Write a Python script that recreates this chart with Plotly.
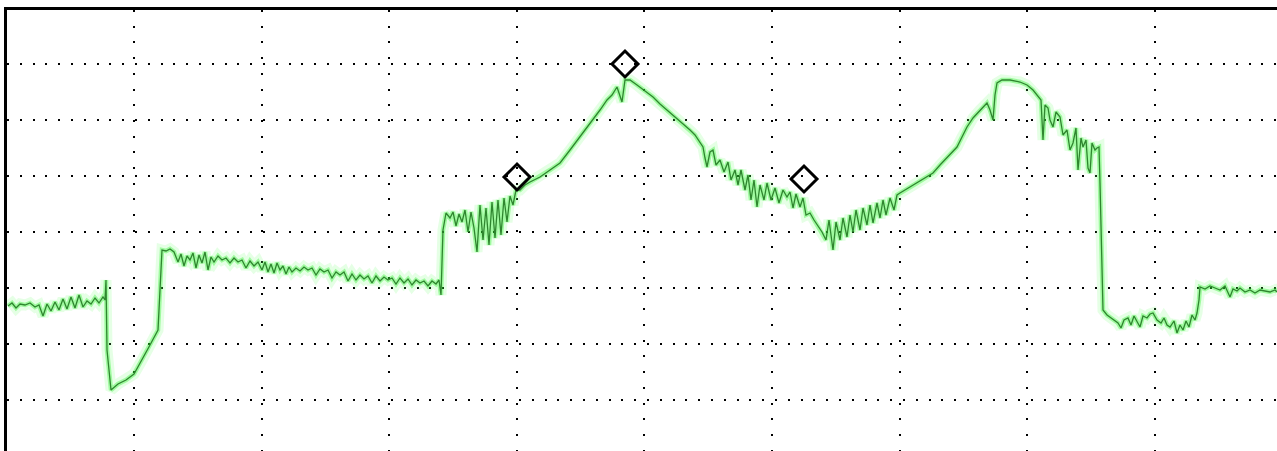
import plotly.graph_objects as go

# Signal trace (t = sample position, level = signal level)
t_a = [8,12,16,20,25,30,35,39,43,47,51,55,59,63,67,71,75,79,83,87,91,95,99,103,105,106,107,111,118,126,134,142,150,158,160,162,166,170,174]
level_a = [145,148,143,147,146,148,144,146,135,147,140,149,141,152,142,154,143,156,144,150,147,153,148,154,151,171,101,61,67,71,77,91,106,121,161,201,200,202,199]

t_b = [178,181,184,187,190,193,196,199,202,205,208,211,214,218,222,226,230,234,238,242,246,250,254,258,262,265,268,271,274,277,280,283,286,289,292,296,300,304,308,312,316,320,324,328,332,336,340,344,348,352,356,360,364,368,372,376,380,384,388,392,396,400,404,408,412,416,420,424,428,432,436,439,441]
level_b = [189,197,185,195,191,198,183,196,188,199,181,194,189,195,191,193,188,193,189,191,183,190,185,189,181,189,179,187,178,188,181,185,177,184,179,183,180,184,181,183,176,182,179,181,173,179,176,179,170,177,171,176,172,175,168,175,170,174,171,173,167,173,168,172,166,171,168,170,165,170,167,171,156]

t_c = [443,446,450,453,456,459,462,465,468,471,474,477,480,483,486,489,492,495,498,501,504,507,510,513,516]
level_c = [221,238,233,239,225,237,229,241,219,239,223,199,246,211,243,206,249,213,251,216,253,229,255,246,261]

t_d = [520,525,530,540,550,560,570,580,587,593,600,607,612,617,620,622,625,630,637,645,653,660,667,675,683,690,695,700,703]
level_d = [261,266,269,274,281,288,301,314,323,331,341,351,356,364,356,349,371,371,366,360,354,347,341,334,327,321,316,308,304]

t_e = [705,707,710,713,716,720,724,728,731,735,738,741,745,748,751,754,757,760,764,767,771,775,779,783,787,790,793,796,800,803,806,810,814,818,822,826,829,833,836,840,843,847,850,853,856,860,863,867,870,873,877,880,883,886,890,894,897,900]
level_e = [293,284,299,301,286,291,279,289,271,281,266,281,261,276,251,271,244,266,251,268,251,263,248,261,254,259,243,257,244,253,236,238,231,225,219,211,231,201,229,211,233,214,236,219,241,221,243,226,246,228,248,233,251,236,253,241,256,258]

t_f = [905,910,917,925,933,940,948,957,962,967,973,980,987,990,993,995,997,1002,1010,1020,1027,1033,1038,1041,1043,1045,1048,1050,1053,1056,1060,1063,1067,1070,1073,1076,1078,1081,1083,1086,1088,1090,1092,1095,1097,1099,1100,1102,1103]
level_f = [261,264,268,273,278,286,294,304,314,324,333,341,348,341,331,356,368,371,371,369,366,361,354,351,311,346,343,331,324,339,334,316,321,301,308,323,281,313,304,311,283,278,308,301,303,304,268,191,141]

t_g = [1107,1110,1114,1118,1121,1124,1128,1131,1134,1137,1140,1143,1147,1150,1153,1157,1161,1164,1167,1170,1174,1177,1180,1183,1186,1189,1192,1195,1197,1199,1200,1205,1210,1215,1220,1225,1230,1233,1237,1240,1245,1250,1255,1260,1265,1270,1275,1277]
level_g = [136,134,131,128,123,131,133,126,135,129,124,135,133,137,138,131,128,133,126,124,130,118,126,121,130,124,136,131,138,151,164,162,165,163,161,165,154,162,160,163,159,161,158,161,160,159,161,159]

marker_t = [517, 625, 804]
marker_level = [274, 387, 272]

t = t_a + t_b + t_c + t_d + t_e + t_f + t_g
level = level_a + level_b + level_c + level_d + level_e + level_f + level_g

fig = go.Figure()
fig.add_trace(go.Scatter(x=t, y=level, mode="lines",
                         line=dict(color="rgba(110,255,110,0.18)", width=11), hoverinfo="skip"))
fig.add_trace(go.Scatter(x=t, y=level, mode="lines",
                         line=dict(color="rgba(30,240,30,0.35)", width=4.5), hoverinfo="skip"))
fig.add_trace(go.Scatter(x=t, y=level, mode="lines",
                         line=dict(color="#2f862f", width=1.3)))
fig.add_trace(go.Scatter(x=marker_t, y=marker_level, mode="markers",
                         marker=dict(symbol="diamond-open", size=20, color="black",
                                     line=dict(color="black", width=3))))

fig.update_layout(
    width=1277, height=451,
    margin=dict(l=7, r=0, t=10, b=0),
    paper_bgcolor="white", plot_bgcolor="white",
    showlegend=False,
    xaxis=dict(range=[7, 1277], tick0=134, dtick=127.6, showgrid=True,
               gridcolor="black", gridwidth=2, griddash="2px,13.7px",
               showticklabels=False, ticks="", zeroline=False,
               side="top", showline=True, linecolor="black", linewidth=3),
    yaxis=dict(range=[0, 441], tick0=51.5, dtick=56, showgrid=True,
               gridcolor="black", gridwidth=2, griddash="2px,10.8px",
               showticklabels=False, ticks="", zeroline=False,
               showline=True, linecolor="black", linewidth=3),
)

fig.write_html("out.html", config={"displayModeBar": False},
               post_script="document.body.style.margin='0';document.body.style.overflow='hidden';")
